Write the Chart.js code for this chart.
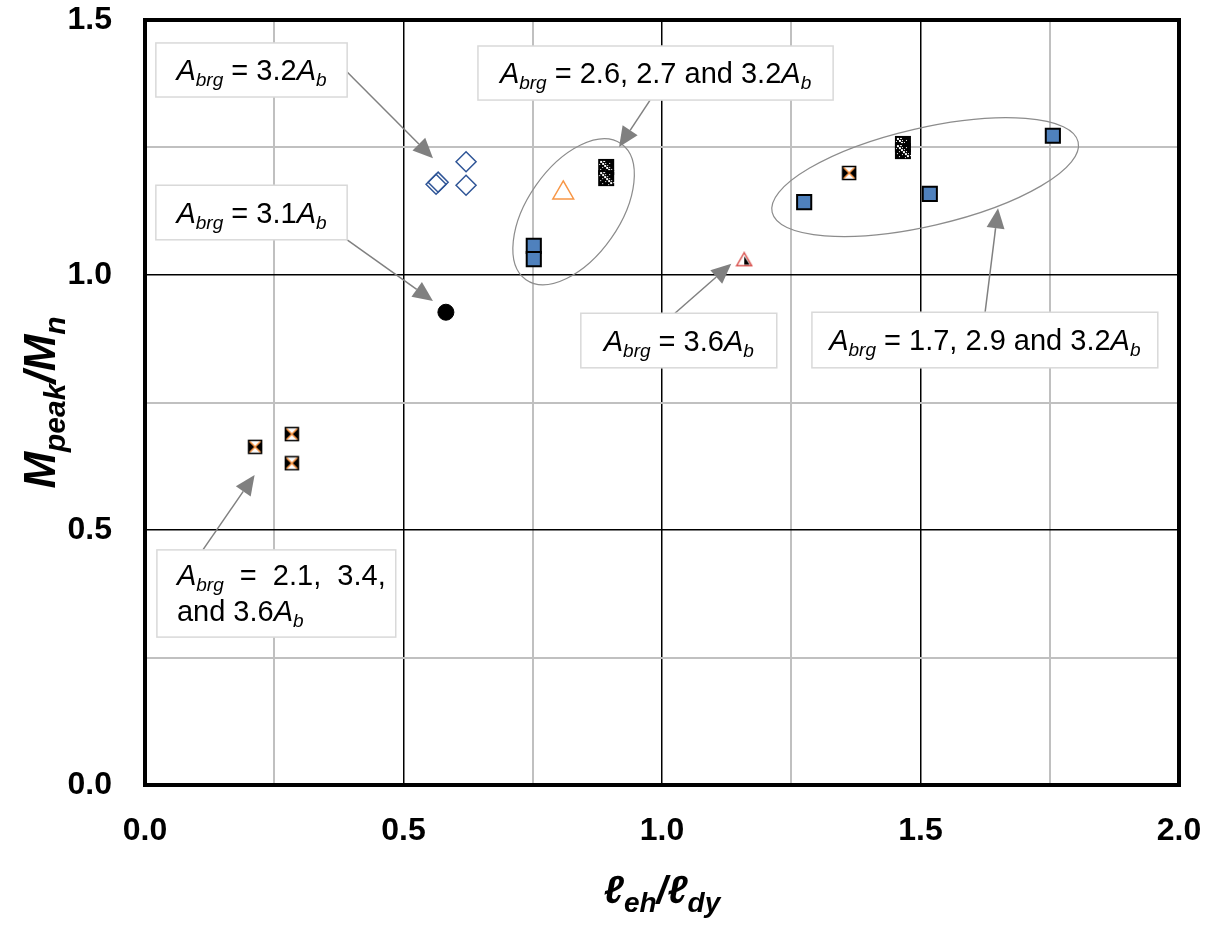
<!DOCTYPE html>
<html>
<head>
<meta charset="utf-8">
<script src="https://cdn.jsdelivr.net/npm/chart.js@4/dist/chart.umd.min.js"></script>
<style>
    html, body { margin: 0; padding: 0; background: #ffffff; }
</style>
</head>
<body>
<canvas id="grafico" width="1212" height="926"></canvas>
<script>

// ticks dos eixos
const ticksX = [0, 0.5, 1.0, 1.5, 2.0];
const rotulosX = ["0.0", "0.5", "1.0", "1.5", "2.0"];
const ticksY = [0, 0.5, 1.0, 1.5];
const rotulosY = ["0.0", "0.5", "1.0", "1.5"];

// séries
const losangoX = [0.563, 0.567, 0.621, 0.621];
const losangoY = [1.178, 1.182, 1.222, 1.176];

const circuloX = [0.582];
const circuloY = [0.927];

const quadAzulX = [0.752, 0.752, 1.275, 1.518, 1.756];
const quadAzulY = [1.057, 1.031, 1.143, 1.159, 1.273];

const trianguloX = [0.809];
const trianguloY = [1.161];

const hachuraX = [0.892, 0.892, 1.466, 1.466];
const hachuraY = [1.212, 1.190, 1.257, 1.243];

const cruzX = [1.362, 0.213, 0.284, 0.284];
const cruzY = [1.200, 0.663, 0.688, 0.631];

const trianguloVermX = [1.159];
const trianguloVermY = [1.031];

const FONTE = "'Liberation Sans', Arial, sans-serif";

function pontos(xs, ys) {
    return xs.map(function(x, i) {
        return { x: x, y: ys[i] };
    });
}

function ehPrincipal(v) {
    return Math.abs(v * 2 - Math.round(v * 2)) < 1e-6;
}

// marcadores desenhados à mão
function marcadorHachurado() {
    const c = document.createElement("canvas");
    c.width = 18; c.height = 18;
    const g = c.getContext("2d");
    g.fillStyle = "#000";
    g.fillRect(1, 1, 16, 16);
    g.fillStyle = "#fff";
    for (let i = 0; i < 12; i++) {
        if (i % 2 === 0) g.fillRect(3 + i, 3 + i, 2, 2);
        else g.fillRect(5 + i, 2 + i, 1, 1);
        if (i % 3 === 0) g.fillRect(2 + i, 6 + i, 1, 1);
    }
    g.fillRect(7, 3, 1, 1);
    g.fillRect(12, 5, 1, 1);
    g.fillRect(3, 11, 1, 1);
    g.fillRect(5, 14, 1, 1);
    return c;
}

function marcadorCruz() {
    const c = document.createElement("canvas");
    c.width = 16; c.height = 16;
    const g = c.getContext("2d");
    g.fillStyle = "#fff";
    g.fillRect(1, 1, 14, 14);
    g.fillStyle = "#000";
    g.beginPath();
    g.moveTo(1, 1); g.lineTo(8, 8); g.lineTo(1, 15); g.closePath();
    g.fill();
    g.beginPath();
    g.moveTo(15, 1); g.lineTo(8, 8); g.lineTo(15, 15); g.closePath();
    g.fill();
    g.strokeStyle = "#F79646";
    g.lineWidth = 1.5;
    g.beginPath();
    g.moveTo(1.5, 1.5); g.lineTo(14.5, 14.5);
    g.moveTo(14.5, 1.5); g.lineTo(1.5, 14.5);
    g.stroke();
    g.strokeStyle = "#000";
    g.lineWidth = 1.5;
    g.strokeRect(1.5, 1.5, 13, 13);
    return c;
}

function marcadorTrianguloVermelho() {
    const c = document.createElement("canvas");
    c.width = 18; c.height = 16;
    const g = c.getContext("2d");
    g.beginPath();
    g.moveTo(9, 1.5); g.lineTo(16.5, 14.5); g.lineTo(1.5, 14.5); g.closePath();
    g.fillStyle = "#fff";
    g.fill();
    g.fillStyle = "#000";
    g.beginPath();
    g.moveTo(9, 5); g.lineTo(14.5, 13.5); g.lineTo(9, 13.5); g.closePath();
    g.fill();
    g.strokeStyle = "#D9534F";
    g.lineWidth = 1.5;
    g.beginPath();
    g.moveTo(9, 1.5); g.lineTo(16.5, 14.5); g.lineTo(1.5, 14.5); g.closePath();
    g.stroke();
    return c;
}

// texto com índices (subscritos)
function larguraRica(ctx, partes, tam, tamSub, negrito) {
    let w = 0;
    partes.forEach(function(p) {
        ctx.font = (p.it ? "italic " : "") + (negrito ? "bold " : "") +
            (p.sub ? tamSub : tam) + "px " + FONTE;
        w += ctx.measureText(p.t).width;
    });
    return w;
}

function textoRico(ctx, partes, x, y, tam, tamSub, negrito, desloc) {
    ctx.textBaseline = "alphabetic";
    ctx.textAlign = "left";
    ctx.fillStyle = "#000";
    partes.forEach(function(p) {
        ctx.font = (p.it ? "italic " : "") + (negrito ? "bold " : "") +
            (p.sub ? tamSub : tam) + "px " + FONTE;
        ctx.fillText(p.t, x, p.sub ? y + desloc : y);
        x += ctx.measureText(p.t).width;
    });
}

function abrg(resto, fim) {
    const partes = [
        { t: "A", it: true },
        { t: "brg", it: true, sub: true },
        { t: resto }
    ];
    if (fim) {
        partes.push({ t: "A", it: true });
        partes.push({ t: "b", it: true, sub: true });
    }
    return partes;
}

// anotações em coordenadas do gráfico
const caixas = [
    { x1: 0.021, x2: 0.391, y1: 1.455, y2: 1.349, linhas: [abrg(" = 3.2", true)],
      seta: [0.391, 1.398, 0.557, 1.229] },
    { x1: 0.644, x2: 1.331, y1: 1.449, y2: 1.343, linhas: [abrg(" = 2.6, 2.7 and 3.2", true)],
      seta: [0.977, 1.343, 0.917, 1.251] },
    { x1: 0.021, x2: 0.391, y1: 1.176, y2: 1.069, linhas: [abrg(" = 3.1", true)],
      seta: [0.391, 1.069, 0.557, 0.949] },
    { x1: 0.843, x2: 1.222, y1: 0.925, y2: 0.818, linhas: [abrg(" = 3.6", true)],
      seta: [1.025, 0.925, 1.134, 1.022] },
    { x1: 1.290, x2: 1.959, y1: 0.927, y2: 0.818, linhas: [abrg(" = 1.7, 2.9 and 3.2", true)],
      seta: [1.625, 0.927, 1.650, 1.131] },
    { x1: 0.023, x2: 0.485, y1: 0.461, y2: 0.290,
      linhas: [abrg("  =  2.1,  3.4,", false), [{ t: "and 3.6" }, { t: "A", it: true }, { t: "b", it: true, sub: true }]],
      esquerda: true, seta: [0.112, 0.461, 0.212, 0.608] }
];

const elipses = [
    { x: 0.829, y: 1.124, a: 83, b: 46, rot: -55 },
    { x: 1.509, y: 1.192, a: 157, b: 49, rot: -13 }
];

const pluginAnotacoes = {
    id: "anotacoes",
    afterDatasetsDraw: function(chart) {
        const ctx = chart.ctx;
        const sx = chart.scales.x;
        const sy = chart.scales.y;

        ctx.save();

        elipses.forEach(function(e) {
            ctx.beginPath();
            ctx.ellipse(sx.getPixelForValue(e.x), sy.getPixelForValue(e.y),
                e.a, e.b, e.rot * Math.PI / 180, 0, Math.PI * 2);
            ctx.strokeStyle = "#8c8c8c";
            ctx.lineWidth = 1.2;
            ctx.stroke();
        });

        caixas.forEach(function(c) {
            const s = c.seta;
            const ax = sx.getPixelForValue(s[0]);
            const ay = sy.getPixelForValue(s[1]);
            const bx = sx.getPixelForValue(s[2]);
            const by = sy.getPixelForValue(s[3]);
            const ang = Math.atan2(by - ay, bx - ax);
            const comp = 20, larg = 9;
            const px = bx - comp * Math.cos(ang);
            const py = by - comp * Math.sin(ang);
            ctx.strokeStyle = "#808080";
            ctx.fillStyle = "#808080";
            ctx.lineWidth = 1.5;
            ctx.beginPath();
            ctx.moveTo(ax, ay);
            ctx.lineTo(px, py);
            ctx.stroke();
            ctx.beginPath();
            ctx.moveTo(bx, by);
            ctx.lineTo(px + larg * Math.sin(ang), py - larg * Math.cos(ang));
            ctx.lineTo(px - larg * Math.sin(ang), py + larg * Math.cos(ang));
            ctx.closePath();
            ctx.fill();
        });

        caixas.forEach(function(c) {
            const x1 = sx.getPixelForValue(c.x1);
            const x2 = sx.getPixelForValue(c.x2);
            const y1 = sy.getPixelForValue(c.y1);
            const y2 = sy.getPixelForValue(c.y2);
            ctx.fillStyle = "#fff";
            ctx.fillRect(x1, y1, x2 - x1, y2 - y1);
            ctx.strokeStyle = "#d9d9d9";
            ctx.lineWidth = 1.5;
            ctx.strokeRect(x1, y1, x2 - x1, y2 - y1);

            const n = c.linhas.length;
            const meio = (y1 + y2) / 2;
            c.linhas.forEach(function(l, i) {
                const w = larguraRica(ctx, l, 29, 19, false);
                const tx = c.esquerda ? x1 + 20 : (x1 + x2) / 2 - w / 2;
                const ty = meio + 10 + (i - (n - 1) / 2) * 36;
                textoRico(ctx, l, tx, ty, 29, 19, false, 6);
            });
        });

        ctx.restore();
    },
    afterDraw: function(chart) {
        const ctx = chart.ctx;
        const a = chart.chartArea;
        ctx.save();
        ctx.strokeStyle = "#000";
        ctx.lineWidth = 4;
        ctx.strokeRect(a.left, a.top, a.right - a.left, a.bottom - a.top);

        // título do eixo x
        const tituloX = [
            { t: "ℓ", it: true },
            { t: "eh", it: true, sub: true },
            { t: "/", it: true },
            { t: "ℓ", it: true },
            { t: "dy", it: true, sub: true }
        ];
        const wx = larguraRica(ctx, tituloX, 39, 28, true);
        textoRico(ctx, tituloX, (a.left + a.right) / 2 - wx / 2, 903, 39, 28, true, 9);

        // título do eixo y
        const tituloY = [
            { t: "M", it: true },
            { t: "peak", it: true, sub: true },
            { t: "/", it: true },
            { t: "M", it: true },
            { t: "n", it: true, sub: true }
        ];
        const wy = larguraRica(ctx, tituloY, 44, 30, true);
        ctx.translate(55, (a.top + a.bottom) / 2);
        ctx.rotate(-Math.PI / 2);
        textoRico(ctx, tituloY, -wy / 2, 0, 44, 30, true, 10);
        ctx.restore();
    }
};

const corPrincipal = "#000000";
const corSecundaria = "#c0c0c0";

new Chart(document.getElementById("grafico"), {

    type: "scatter",

    data: {
        datasets: [
            {
                label: "losangos",
                data: pontos(losangoX, losangoY),
                pointStyle: "rectRot",
                radius: 10,
                borderColor: "#2F5597",
                backgroundColor: "rgba(255,255,255,0)",
                borderWidth: 1.5
            },
            {
                label: "círculo",
                data: pontos(circuloX, circuloY),
                pointStyle: "circle",
                radius: 8,
                borderColor: "#000",
                backgroundColor: "#000",
                borderWidth: 1
            },
            {
                label: "quadrados azuis",
                data: pontos(quadAzulX, quadAzulY),
                pointStyle: "rect",
                radius: 10,
                borderColor: "#000",
                backgroundColor: "#4F81BD",
                borderWidth: 2
            },
            {
                label: "triângulo laranja",
                data: pontos(trianguloX, trianguloY),
                pointStyle: "triangle",
                radius: 12,
                borderColor: "#F79646",
                backgroundColor: "rgba(255,255,255,0)",
                borderWidth: 1.5
            },
            {
                label: "hachurados",
                data: pontos(hachuraX, hachuraY),
                pointStyle: marcadorHachurado()
            },
            {
                label: "cruzes",
                data: pontos(cruzX, cruzY),
                pointStyle: marcadorCruz()
            },
            {
                label: "triângulo vermelho",
                data: pontos(trianguloVermX, trianguloVermY),
                pointStyle: marcadorTrianguloVermelho()
            }
        ]
    },

    options: {
        responsive: false,
        animation: false,
        events: [],

        layout: {
            padding: { top: 20, right: 33, left: 0, bottom: 0 }
        },

        plugins: {
            legend: { display: false },
            tooltip: { enabled: false }
        },

        scales: {
            x: {
                type: "linear",
                min: 0,
                max: 2,
                afterFit: function(escala) { escala.height = 141; },
                border: { display: false },
                grid: {
                    drawTicks: true,
                    tickLength: 27,
                    tickColor: "rgba(0,0,0,0)",
                    color: function(c) { return ehPrincipal(c.tick.value) ? corPrincipal : corSecundaria; },
                    lineWidth: function(c) { return ehPrincipal(c.tick.value) ? 1.5 : 2; }
                },
                ticks: {
                    stepSize: 0.25,
                    autoSkip: false,
                    maxRotation: 0,
                    padding: 0,
                    color: "#000",
                    font: { family: FONTE, size: 32, weight: "bold" },
                    callback: function(v) {
                        const i = ticksX.indexOf(v);
                        return i === -1 ? "" : rotulosX[i];
                    }
                }
            },
            y: {
                type: "linear",
                min: 0,
                max: 1.5,
                afterFit: function(escala) { escala.width = 145; },
                border: { display: false },
                grid: {
                    drawTicks: true,
                    tickLength: 33,
                    tickColor: "rgba(0,0,0,0)",
                    color: function(c) { return ehPrincipal(c.tick.value) ? corPrincipal : corSecundaria; },
                    lineWidth: function(c) { return ehPrincipal(c.tick.value) ? 1.5 : 2; }
                },
                ticks: {
                    stepSize: 0.25,
                    autoSkip: false,
                    padding: 0,
                    color: "#000",
                    font: { family: FONTE, size: 32, weight: "bold" },
                    callback: function(v) {
                        const i = ticksY.indexOf(v);
                        return i === -1 ? "" : rotulosY[i];
                    }
                }
            }
        }
    },

    plugins: [pluginAnotacoes]
});
</script>
</body>
</html>
